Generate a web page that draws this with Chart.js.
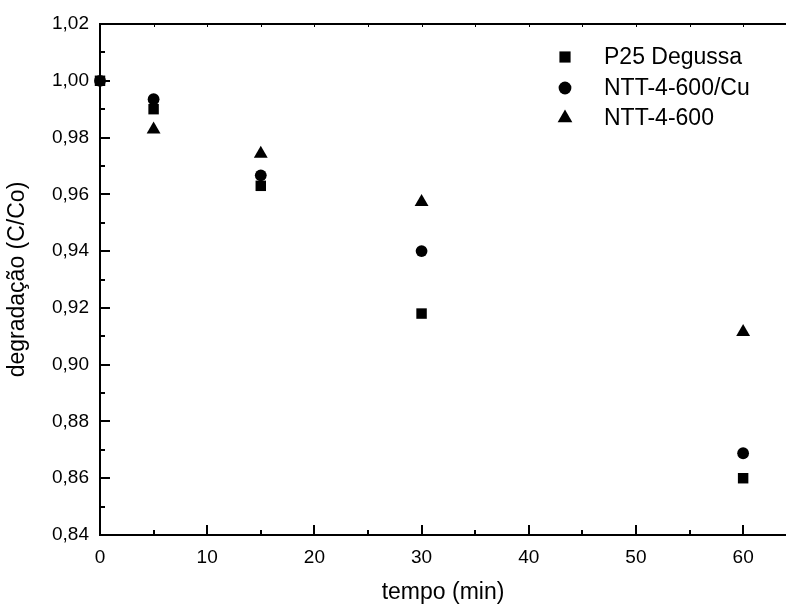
<!DOCTYPE html>
<html lang="pt">
<head>
  <meta charset="utf-8">
  <title>degradação (C/Co) x tempo</title>
  <script src="https://cdn.jsdelivr.net/npm/chart.js@4"></script>
  <style>
body {
  margin: 0;
  background: #fff;
  overflow: hidden;
}
#wrap {
  width: 786px;
  height: 606px;
}
canvas {
  display: block;
}
  </style>
</head>
<body>
  <div id="wrap">
    <canvas id="deg-chart" width="786" height="606"></canvas>
  </div>
  <script>
// values
const tempoP25 = [0, 5, 15, 30, 60];
const p25 = [1.000, 0.990, 0.963, 0.918, 0.860];

const tempoCu = [0, 5, 15, 30, 60];
const nttCu = [1.000, 0.9935, 0.9667, 0.940, 0.8688];

const tempoNtt = [5, 15, 30, 60];
const ntt = [0.9828, 0.9743, 0.9573, 0.9115];

const seriesNames = ['P25 Degussa', 'NTT-4-600/Cu', 'NTT-4-600'];
const xTicks = [0, 10, 20, 30, 40, 50, 60];

const FONT = "'Liberation Sans', Arial, sans-serif";

function pts(xs, ys) {
  return xs.map((x, i) => ({ x: x, y: ys[i] }));
}

// markers, same geometry as chart.js point styles
function marker(ctx, style, r, x, y) {
  ctx.beginPath();
  if (style === 'rect') {
    const s = r * Math.SQRT1_2;
    ctx.rect(x - s, y - s, 2 * s, 2 * s);
  } else if (style === 'circle') {
    ctx.arc(x, y, r, 0, Math.PI * 2);
  } else {
    ctx.moveTo(x, y - r);
    ctx.lineTo(x + r * Math.sin(Math.PI / 3), y + r / 2);
    ctx.lineTo(x - r * Math.sin(Math.PI / 3), y + r / 2);
    ctx.closePath();
  }
  ctx.fill();
}

// axis box with inward ticks, drawn from the scales
const axesPlugin = {
  id: 'axes',
  beforeDatasetsDraw(chart) {
    const { ctx, chartArea: a, scales: { x, y } } = chart;
    ctx.save();
    ctx.strokeStyle = '#000';
    ctx.lineWidth = 2;
    ctx.beginPath();
    ctx.moveTo(a.left, a.bottom);
    ctx.lineTo(a.right, a.bottom);
    ctx.moveTo(a.left, a.bottom + 1);
    ctx.lineTo(a.left, a.top - 1);
    ctx.moveTo(a.left, a.top);
    ctx.lineTo(a.right, a.top);
    ctx.stroke();

    ctx.beginPath();
    for (let v = x.min; v <= x.max; v += 5) {
      const px = Math.round(x.getPixelForValue(v));
      const len = v % 10 === 0 ? 10 : 5;
      ctx.moveTo(px, a.bottom);
      ctx.lineTo(px, a.bottom - len);
    }
    for (let k = 0; k <= 18; k++) {
      const v = 0.84 + k * 0.01;
      const py = Math.round(y.getPixelForValue(v));
      const len = k % 2 === 0 ? 10 : 5;
      ctx.moveTo(a.left, py);
      ctx.lineTo(a.left + len, py);
    }
    ctx.stroke();

    ctx.lineWidth = 1;
    ctx.beginPath();
    for (let v = x.min + 5; v <= x.max; v += 5) {
      const px = Math.round(x.getPixelForValue(v)) + 0.5;
      ctx.moveTo(px, a.top);
      ctx.lineTo(px, a.top + 3);
    }
    ctx.stroke();
    ctx.restore();
  }
};

// legend inside the plot, top right
const legendPlugin = {
  id: 'boxLegend',
  afterDatasetsDraw(chart) {
    const { ctx } = chart;
    ctx.save();
    ctx.fillStyle = '#000';
    ctx.font = '23px ' + FONT;
    ctx.textBaseline = 'middle';
    ctx.textAlign = 'left';
    const rows = [57, 88, 118];
    chart.data.datasets.forEach((ds, i) => {
      marker(ctx, ds.pointStyle, ds.pointRadius + 0.5, 565, rows[i]);
      ctx.fillText(ds.label, 604, rows[i] + 1);
    });
    ctx.restore();
  }
};

const data = {
  datasets: [
    {
      label: seriesNames[0],
      data: pts(tempoP25, p25),
      pointStyle: 'rect',
      pointRadius: 7.4,
      backgroundColor: '#000',
      borderWidth: 0,
      order: 1,
      clip: false
    },
    {
      label: seriesNames[1],
      data: pts(tempoCu, nttCu),
      pointStyle: 'circle',
      pointRadius: 5.9,
      backgroundColor: '#000',
      borderWidth: 0,
      order: 0,
      clip: false
    },
    {
      label: seriesNames[2],
      data: pts(tempoNtt, ntt),
      pointStyle: 'triangle',
      pointRadius: 8,
      backgroundColor: '#000',
      borderWidth: 0,
      order: 2,
      clip: false
    }
  ]
};

const config = {
  type: 'scatter',
  data: data,
  options: {
    responsive: false,
    animation: false,
    devicePixelRatio: 1,
    layout: {
      autoPadding: false,
      padding: { top: 24, left: 0, right: 0, bottom: 0 }
    },
    scales: {
      x: {
        type: 'linear',
        min: 0,
        max: 64,
        grid: { display: false, drawTicks: false },
        border: { display: false },
        afterFit: (s) => {
          s.height = 71;
          s.paddingRight = 0;
          s.paddingLeft = 0;
        },
        afterBuildTicks: (s) => { s.ticks = xTicks.map(v => ({ value: v })); },
        ticks: {
          color: '#000',
          font: { family: FONT, size: 19 },
          padding: 11,
          maxRotation: 0,
          autoSkip: false
        },
        title: {
          display: true,
          text: 'tempo (min)',
          color: '#000',
          font: { family: FONT, size: 23 },
          padding: { top: 0, bottom: 0 }
        }
      },
      y: {
        min: 0.84,
        max: 1.02,
        grid: { display: false, drawTicks: false },
        border: { display: false },
        afterFit: (s) => { s.width = 100; },
        ticks: {
          stepSize: 0.02,
          color: '#000',
          font: { family: FONT, size: 19 },
          padding: 11,
          callback: (v) => v.toFixed(2).replace('.', ',')
        },
        title: {
          display: true,
          text: 'degradação (C/Co)',
          color: '#000',
          font: { family: FONT, size: 23 },
          padding: { top: 4, bottom: 0 }
        }
      }
    },
    plugins: {
      legend: { display: false },
      tooltip: { enabled: false }
    }
  },
  plugins: [axesPlugin, legendPlugin]
};

const degChart = new Chart(document.getElementById('deg-chart'), config);
  </script>
</body>
</html>
